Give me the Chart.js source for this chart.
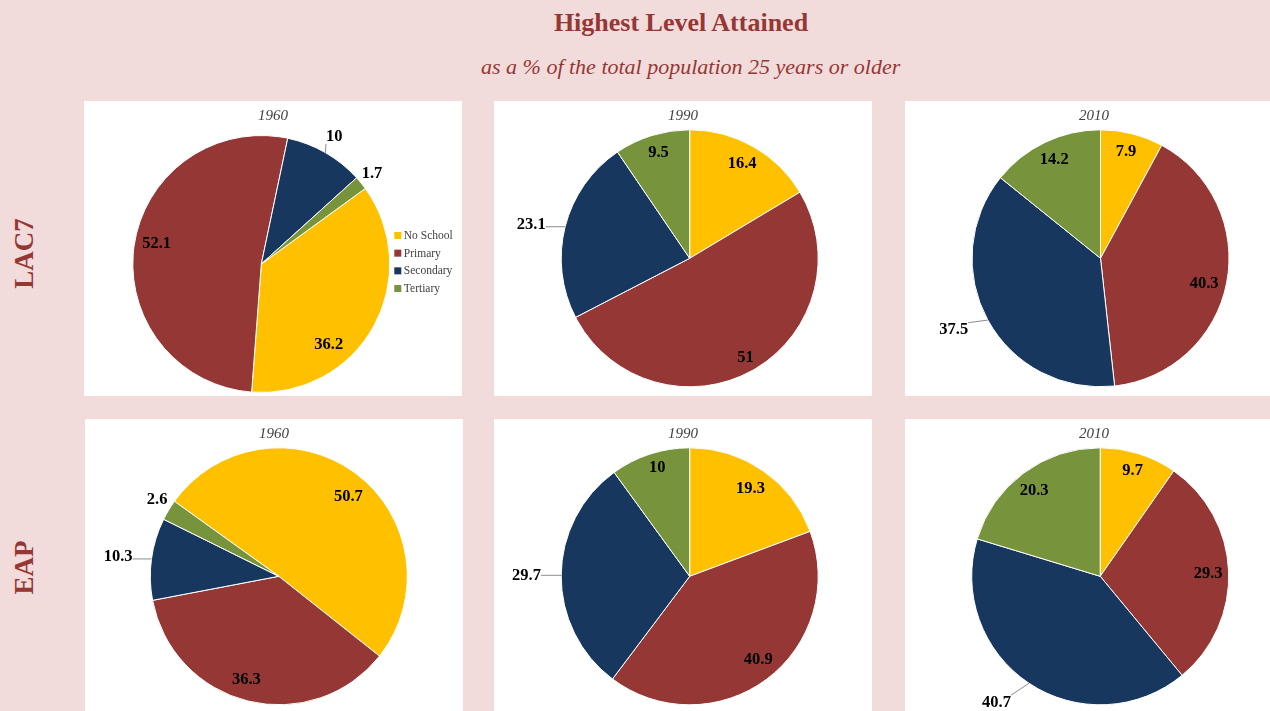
<!DOCTYPE html>
<html>
<head>
<meta charset="utf-8">
<title>Highest Level Attained</title>
<script src="https://cdn.jsdelivr.net/npm/chart.js@4.4.0/dist/chart.umd.min.js"></script>
<style>
  html, body { margin: 0; padding: 0; }
  body {
    width: 1270px; height: 711px; overflow: hidden; position: relative;
    background: #f2dcdb; font-family: "Liberation Serif", "DejaVu Serif", serif;
  }
  #title, #subtitle {
    position: absolute; left: 481px; width: 400px; text-align: center;
    color: #953735; white-space: nowrap;
  }
  #title { top: 10px; font-size: 26px; line-height: 26px; font-weight: bold; }
  #subtitle { top: 56px; font-size: 22px; line-height: 22px; font-style: italic; }
  .rowlabel {
    position: absolute; width: 120px; height: 27px; line-height: 27px;
    text-align: center; font-size: 27px; font-weight: bold; color: #953735;
    transform: rotate(-90deg); white-space: nowrap;
  }
  .panel { position: absolute; background: #ffffff; overflow: hidden; }
  .panel canvas { display: block; }
</style>
</head>
<body>
<div id="title">Highest Level Attained</div>
<div id="subtitle">as a % of the total population 25 years or older</div>
<div class="rowlabel" style="left:-36.4px; top:240.2px;">LAC7</div>
<div class="rowlabel" style="left:-36.4px; top:554px;">EAP</div>

<script>
// ---- data ----
const CATEGORIES = ['No School', 'Primary', 'Secondary', 'Tertiary'];
const YEARS = ['1960', '1990', '2010'];
const REGIONS = ['LAC7', 'EAP'];

const LAC7_1960 = [36.2, 52.1, 10, 1.7];
const LAC7_1990 = [16.4, 51, 23.1, 9.5];
const LAC7_2010 = [7.9, 40.3, 37.5, 14.2];
const EAP_1960 = [50.7, 36.3, 10.3, 2.6];
const EAP_1990 = [19.3, 40.9, 29.7, 10];
const EAP_2010 = [9.7, 29.3, 40.7, 20.3];

const SLICE_COLORS = ['#ffc000', '#953735', '#17375e', '#77933c'];

// ---- layout of the six panels ----
const SERIES = [
  [LAC7_1960, LAC7_1990, LAC7_2010],
  [EAP_1960, EAP_1990, EAP_2010]
];
const PANEL_W = 378;
const ROW_TOP = [101, 419];
const ROW_H = [295, 292];
const COL_LEFT = [[84, 494, 905], [85, 494, 905]];
const PIE_RADIUS = 128.5;
// pie centre inside each panel
const PIE_CENTER = [
  [[177.3, 163], [195.7, 157.3], [195.5, 157.3]],
  [[193.8, 157.3], [195.7, 157.3], [195.2, 157.3]]
];
// angle of the first slice (degrees, clockwise from 12 o'clock)
const START_ANGLE = [[54, 0, 0], [305.7, 0, 0]];
// data-label placement per slice: [radius factor, angular shift in degrees]
const LABEL_PLACE = [
  [
    [[0.82, 21], [0.83, 3], [1.14, 0], [1.11, 0]],
    [[0.84, -0.5], [0.89, 0], [1.26, -2.4], [0.86, 0.7]],
    [[0.855, -0.8], [0.83, 2.5], [1.27, 2.8], [0.845, 0.4]]
  ],
  [
    [[0.82, 4.3], [0.84, 3.7], [1.26, -0.7], [1.12, 1.3]],
    [[0.83, 0], [0.84, -2.7], [1.27, -0.2], [0.88, 1.4]],
    [[0.86, -0.4], [0.84, 1.1], [1.27, 5.8], [0.84, -1.2]]
  ]
];

const LABEL_FONT = 'bold 16.5px "Liberation Serif", serif';

// Year caption at the top of each panel
const yearCaption = {
  id: 'yearCaption',
  afterDraw(chart, args, opts) {
    const ctx = chart.ctx;
    ctx.save();
    ctx.font = 'italic 15px "Liberation Serif", serif';
    ctx.fillStyle = '#404040';
    ctx.textAlign = 'center';
    ctx.textBaseline = 'middle';
    ctx.fillText(opts.text, chart.width / 2, 15);
    ctx.restore();
  }
};

// Value labels on / beside each slice, with leader lines when detached
const sliceValues = {
  id: 'sliceValues',
  afterDatasetsDraw(chart, args, opts) {
    const ctx = chart.ctx;
    const meta = chart.getDatasetMeta(0);
    const values = chart.data.datasets[0].data;
    ctx.save();
    ctx.font = LABEL_FONT;
    ctx.textAlign = 'center';
    ctx.textBaseline = 'middle';
    meta.data.forEach((arc, i) => {
      const p = arc.getProps(['x', 'y', 'startAngle', 'endAngle', 'outerRadius'], true);
      const mid = (p.startAngle + p.endAngle) / 2;
      const [f, shift] = opts.place[i];
      const a = mid + shift * Math.PI / 180;
      const tx = p.x + Math.cos(a) * p.outerRadius * f;
      const ty = p.y + Math.sin(a) * p.outerRadius * f;
      const txt = String(values[i]);
      if (f > 1) {
        const w = ctx.measureText(txt).width;
        const h = 14;
        const ex = p.x + Math.cos(mid) * p.outerRadius;
        const ey = p.y + Math.sin(mid) * p.outerRadius;
        const nx = Math.min(Math.max(ex, tx - w / 2), tx + w / 2);
        const ny = Math.min(Math.max(ey, ty - h / 2), ty + h / 2);
        if (Math.hypot(ex - nx, ey - ny) > 6) {
          ctx.beginPath();
          ctx.moveTo(ex, ey);
          ctx.lineTo(nx, ny);
          ctx.strokeStyle = '#6e6e6e';
          ctx.lineWidth = 0.8;
          ctx.stroke();
        }
      }
      ctx.fillStyle = '#000000';
      ctx.fillText(txt, tx, ty);
    });
    ctx.restore();
  }
};

// Category key drawn to the right of the first pie
const sideKey = {
  id: 'sideKey',
  afterDraw(chart, args, opts) {
    if (!opts.show) return;
    const ctx = chart.ctx;
    const area = chart.chartArea;
    const labels = chart.data.labels;
    const colors = chart.data.datasets[0].backgroundColor;
    const step = 17.7;
    const cy = (area.top + area.bottom) / 2 - 2;
    const y0 = cy - step * (labels.length - 1) / 2;
    const x0 = area.right + 4;
    ctx.save();
    ctx.font = '11.5px "Liberation Serif", serif';
    ctx.textBaseline = 'middle';
    ctx.textAlign = 'left';
    labels.forEach((lab, i) => {
      const y = y0 + i * step;
      ctx.fillStyle = colors[i];
      ctx.fillRect(x0, y - 3.5, 7, 7);
      ctx.fillStyle = '#404040';
      ctx.fillText(lab, x0 + 9.5, y + 0.5);
    });
    ctx.restore();
  }
};

REGIONS.forEach((region, r) => {
  YEARS.forEach((year, c) => {
    const panel = document.createElement('div');
    panel.className = 'panel';
    const left = COL_LEFT[r][c];
    const h = ROW_H[r];
    panel.style.left = left + 'px';
    panel.style.top = ROW_TOP[r] + 'px';
    panel.style.width = PANEL_W + 'px';
    panel.style.height = h + 'px';
    const canvas = document.createElement('canvas');
    canvas.width = PANEL_W;
    canvas.height = h;
    canvas.style.width = PANEL_W + 'px';
    canvas.style.height = h + 'px';
    panel.appendChild(canvas);
    document.body.appendChild(panel);

    const [cx, cy] = PIE_CENTER[r][c];
    const side = 2 * PIE_RADIUS + 1;
    const padLeft = cx - side / 2;
    const padTop = cy - side / 2;

    new Chart(canvas, {
      type: 'pie',
      data: {
        labels: CATEGORIES,
        datasets: [{
          data: SERIES[r][c],
          backgroundColor: SLICE_COLORS,
          borderColor: '#ffffff',
          borderWidth: 1
        }]
      },
      options: {
        responsive: false,
        animation: false,
        devicePixelRatio: 1,
        rotation: START_ANGLE[r][c],
        layout: {
          padding: {
            left: padLeft,
            top: padTop,
            right: PANEL_W - padLeft - side,
            bottom: h - padTop - side
          }
        },
        plugins: {
          legend: { display: false },
          tooltip: { enabled: false },
          yearCaption: { text: year },
          sliceValues: { place: LABEL_PLACE[r][c] },
          sideKey: { show: r === 0 && c === 0 }
        }
      },
      plugins: [yearCaption, sliceValues, sideKey]
    });
  });
});
</script>
</body>
</html>
